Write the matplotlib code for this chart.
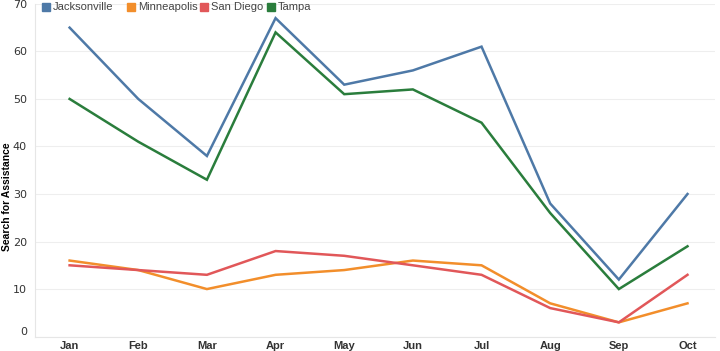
import matplotlib

matplotlib.use("Agg")
import matplotlib.pyplot as plt  # noqa: E402
from matplotlib.patches import Rectangle  # noqa: E402

months = ["Jan", "Feb", "Mar", "Apr", "May", "Jun", "Jul", "Aug", "Sep", "Oct"]
cities = ["Jacksonville", "Minneapolis", "San Diego", "Tampa"]
jacksonville = [65, 50, 38, 67, 53, 56, 61, 28, 12, 30]
minneapolis = [16, 14, 10, 13, 14, 16, 15, 7, 3, 7]
san_diego = [15, 14, 13, 18, 17, 15, 13, 6, 3, 13]
tampa = [50, 41, 33, 64, 51, 52, 45, 26, 10, 19]

COLORS = ["#4e79a7", "#f28e2b", "#e15759", "#2a7d3c"]
series = [jacksonville, minneapolis, san_diego, tampa]

fig = plt.figure(figsize=(7.2, 3.51), dpi=100)
ax = fig.add_axes([0.049, 0.041, 0.944, 0.948])

x = list(range(len(months)))
for vals, c in zip(series, COLORS):
    ax.plot(x, vals, color=c, linewidth=1.8, solid_joinstyle="miter")

ax.set_xlim(-0.5, 9.4)
ax.set_ylim(0, 70)
ax.set_yticks(range(0, 71, 10))
ax.set_xticks(x)
ax.set_xticklabels(months, fontsize=8, fontweight="bold", color="#333333",
                   family="Liberation Sans")
for lab in ax.get_yticklabels():
    lab.set_fontsize(8)
    lab.set_color("#333333")
ax.get_yticklabels()[0].set_va("bottom")
ax.tick_params(axis="x", length=0, pad=3)
ax.tick_params(axis="y", length=0, pad=6)
ax.grid(axis="y", color="#eeeeee", linewidth=0.8)
ax.set_axisbelow(True)
for s in ["top", "right"]:
    ax.spines[s].set_visible(False)
for s in ["left", "bottom"]:
    ax.spines[s].set_color("#e6e6e6")
ax.set_ylabel("Search for Assistance", fontsize=7.5, fontweight="bold",
              family="Liberation Sans")
ax.yaxis.set_label_coords(-0.034, 0.42)

# legend row across the top
leg_x = [42, 127, 200, 267]
for px, name, c in zip(leg_x, cities, COLORS):
    fig.patches.append(Rectangle((px / 720, 1 - 10.5 / 351), 8 / 720, 8 / 351,
                                 transform=fig.transFigure, color=c))
    fig.text((px + 11) / 720, 1 - 6.5 / 351, name, fontsize=8, color="#444444",
             va="center", ha="left", family="Liberation Sans")

fig.savefig("out.png", dpi=100)
